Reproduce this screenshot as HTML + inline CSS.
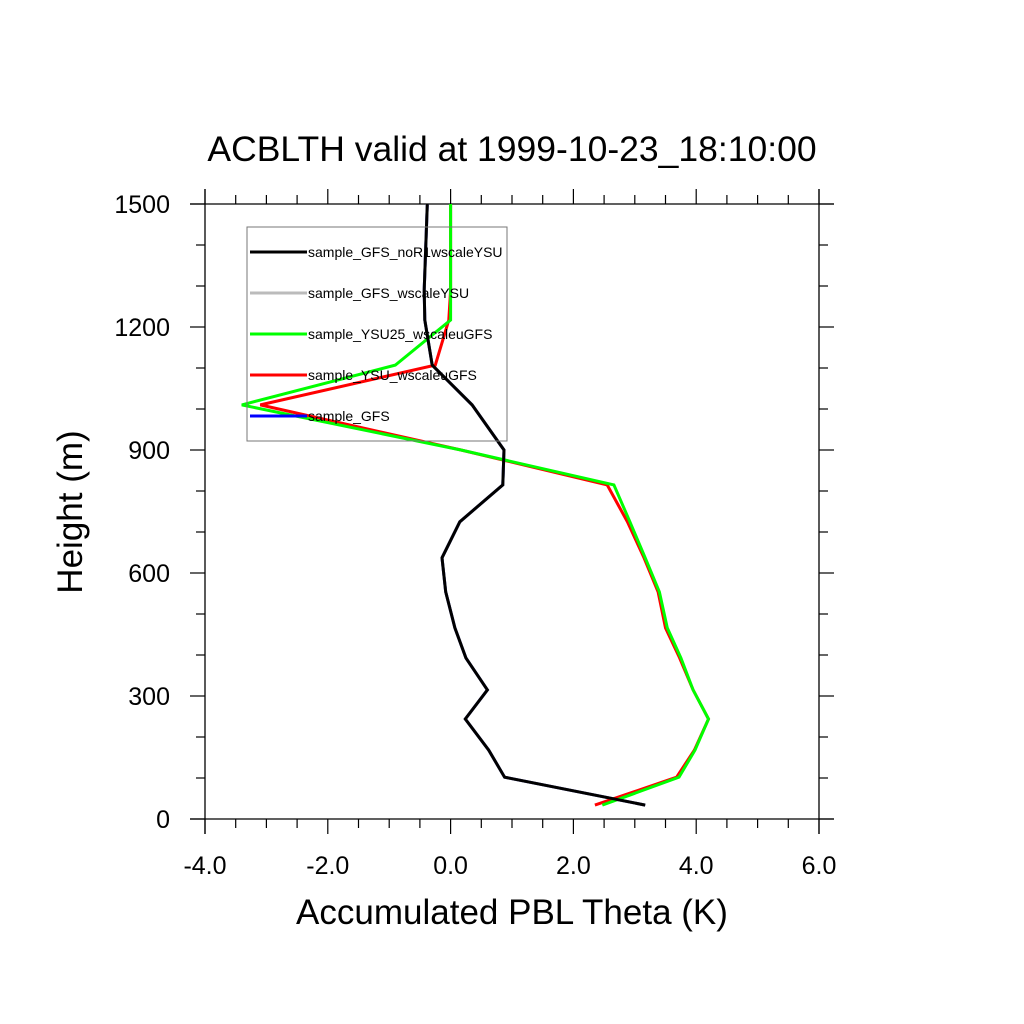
<!DOCTYPE html>
<html><head><meta charset="utf-8"><style>
html,body{margin:0;padding:0;background:#fff;}
svg{display:block;font-family:"Liberation Sans",sans-serif;}
</style></head><body>
<svg id="chart" width="1024" height="1024" viewBox="0 0 1024 1024" xmlns="http://www.w3.org/2000/svg">
<rect width="1024" height="1024" fill="#fff"/>
<text x="512" y="161" font-size="35.5" text-anchor="middle">ACBLTH valid at 1999-10-23_18:10:00</text>
<text transform="translate(82,512) rotate(-90)" font-size="35" text-anchor="middle">Height (m)</text>
<text x="512" y="924" font-size="35" text-anchor="middle">Accumulated PBL Theta (K)</text>
<g id="axes"></g>
<g id="series"></g>
<g id="legend"></g>
</svg>
<script>
const heights = [1500,1290,1217,1107,1010,900,815,725,637,554,466,393,315,244,168,102,34];
const blackVals = [-0.38,-0.43,-0.42,-0.3,0.35,0.87,0.85,0.15,-0.14,-0.08,0.07,0.25,0.6,0.24,0.62,0.88,3.17];
const grayVals = [-0.38,-0.43,-0.42,-0.3,0.35,0.87,0.85,0.15,-0.14,-0.08,0.07,0.25,0.6,0.24,0.62,0.88,3.17];
const greenVals = [0,0,0,-0.9,-3.4,0.17,2.66,2.92,3.17,3.4,3.53,3.75,3.95,4.2,3.98,3.72,2.47];
const redVals = [0,0,-0.03,-0.25,-3.1,0.17,2.55,2.88,3.15,3.38,3.5,3.73,3.95,4.2,3.97,3.68,2.35];
const blueVals = [-0.38,-0.43,-0.42,-0.3,0.35,0.87,0.85,0.15,-0.14,-0.08,0.07,0.25,0.6,0.24,0.62,0.88,3.17];
const xTicks = [-4,-2,0,2,4,6];
const xTickLabels = ["-4.0","-2.0","0.0","2.0","4.0","6.0"];
const yTicks = [0,300,600,900,1200,1500];
const yTickLabels = ["0","300","600","900","1200","1500"];
const seriesNames = ["sample_GFS_noR1wscaleYSU","sample_GFS_wscaleYSU","sample_YSU25_wscaleuGFS","sample_YSU_wscaleuGFS","sample_GFS"];

const NS="http://www.w3.org/2000/svg";
const X0=205,X1=819,Y0=819,Y1=204;
const xs=v=>X0+(v-(-4))/10*(X1-X0);
const ys=v=>Y0-v/1500*(Y0-Y1);
function mk(tag,attrs,parent){const e=document.createElementNS(NS,tag);for(const k in attrs)e.setAttribute(k,attrs[k]);parent.appendChild(e);return e;}
const axes=document.getElementById('axes');
mk('line',{x1:190,y1:Y0,x2:834,y2:Y0,stroke:'#000','stroke-width':1.3},axes);
mk('line',{x1:190,y1:Y1,x2:834,y2:Y1,stroke:'#000','stroke-width':1.3},axes);
mk('line',{x1:X0,y1:189,x2:X0,y2:834,stroke:'#000','stroke-width':1.3},axes);
mk('line',{x1:X1,y1:189,x2:X1,y2:834,stroke:'#000','stroke-width':1.3},axes);
for(let v=-4;v<=6.001;v+=0.5){
  const x=xs(v);const maj=Math.abs(v/2-Math.round(v/2))<1e-6;const L=maj?15:9;
  const t1=mk('line',{x1:x,y1:Y0,x2:x,y2:Y0+L,stroke:'#000','stroke-width':1.2},axes);
  
  const t2=mk('line',{x1:x,y1:Y1,x2:x,y2:Y1-L,stroke:'#000','stroke-width':1.2},axes);
  
}
for(let v=0;v<=1500;v+=100){
  const y=ys(v);const maj=v%300===0;const L=maj?15:9;
  const t1=mk('line',{x1:X0,y1:y,x2:X0-L,y2:y,stroke:'#000','stroke-width':1.2},axes);
  
  const t2=mk('line',{x1:X1,y1:y,x2:X1+L,y2:y,stroke:'#000','stroke-width':1.2},axes);
  
}
xTicks.forEach((v,i)=>{const t=mk('text',{x:xs(v),y:874,'font-size':25,'text-anchor':'middle'},axes);t.textContent=xTickLabels[i];
  
  });
yTicks.forEach((v,i)=>{const t=mk('text',{x:170,y:ys(v)+9,'font-size':25,'text-anchor':'end'},axes);t.textContent=yTickLabels[i];
  
  });
const ser=document.getElementById('series');
const defs=[[blueVals,'#0000ff','series-sample-gfs'],[grayVals,'#bbbbbb','series-sample-gfs-wscaleysu'],[redVals,'#ff0000','series-sample-ysu-wscaleugfs'],[greenVals,'#00ff00','series-sample-ysu25-wscaleugfs'],[blackVals,'#000000','series-sample-gfs-nor1wscaleysu']];
defs.forEach(d=>{const pts=d[0].map((v,i)=>xs(v).toFixed(1)+','+ys(heights[i]).toFixed(1)).join(' ');
  const p=mk('polyline',{points:pts,fill:'none',stroke:d[1],'stroke-width':3,'stroke-linejoin':'miter'},ser);
  
  });
const lg=document.getElementById('legend');
const box=mk('rect',{x:247,y:227,width:260,height:214,fill:'none',stroke:'#777','stroke-width':1},lg);

const lcolors=['#000000','#bbbbbb','#00ff00','#ff0000','#0000ff'];
seriesNames.forEach((n,i)=>{const y=252+i*41;
  const l=mk('line',{x1:250,y1:y,x2:307,y2:y,stroke:lcolors[i],'stroke-width':3},lg);
  
  const t=mk('text',{x:308,y:y+5,'font-size':14},lg);t.textContent=n;
  
  });
</script>
</body></html>
